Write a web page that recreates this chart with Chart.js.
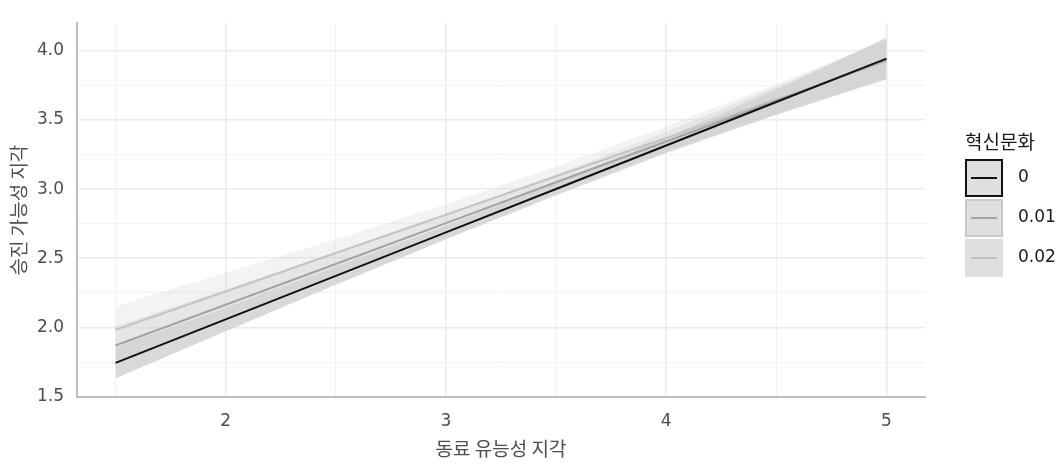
<!DOCTYPE html>
<html>
<head>
<meta charset="utf-8">
<script src="https://cdn.jsdelivr.net/npm/chart.js@4"></script>
<style>
  html, body { margin:0; padding:0; background:#fff; }
  #wrap { position:relative; width:1062px; height:465px; }
  #legend { position:absolute; left:965px; top:128px; font-family:"DejaVu Sans", sans-serif; color:#1a1a1a; }
  #legend .title { font-family:"Noto Sans CJK KR", sans-serif; font-size:19px; color:#1a1a1a; height:30px; line-height:26px; }
  #legend .row { position:relative; height:40px; }
  #legend .key { position:absolute; left:0; top:1px; width:34px; height:34px; background:#dfdfdf; border:2px solid #dfdfdf; }
  #legend .key span { position:absolute; left:4px; right:4px; top:16px; height:2px; }
  #legend .lab { position:absolute; left:53px; top:8px; font-size:17px; line-height:20px; color:#1a1a1a; }
</style>
</head>
<body>
<div id="wrap">
  <canvas id="c" width="1062" height="465"></canvas>
  <div id="legend"></div>
</div>
<script>
// ---- data ----
const xValues = [1.5, 2, 2.5, 3, 3.5, 4, 4.5, 5];
const seriesNames = ["0", "0.01", "0.02"];
const line0 = [1.744, 2.058, 2.373, 2.687, 3.001, 3.316, 3.630, 3.944];
const lower0 = [1.632, 1.973, 2.308, 2.637, 2.956, 3.261, 3.540, 3.794];
const upper0 = [1.856, 2.143, 2.438, 2.737, 3.046, 3.371, 3.720, 4.094];
const line1 = [1.869, 2.164, 2.459, 2.754, 3.050, 3.345, 3.640, 3.935];
const lower1 = [1.729, 2.054, 2.379, 2.694, 2.995, 3.275, 3.540, 3.800];
const upper1 = [2.009, 2.274, 2.539, 2.814, 3.105, 3.415, 3.740, 4.080];
const line2 = [1.983, 2.260, 2.538, 2.815, 3.093, 3.370, 3.648, 3.925];
const lower2 = [1.813, 2.125, 2.438, 2.740, 3.023, 3.285, 3.535, 3.800];
const upper2 = [2.153, 2.395, 2.638, 2.890, 3.163, 3.455, 3.760, 4.080];
const yTickLabels = ["1.5", "2.0", "2.5", "3.0", "3.5", "4.0"];
const xTickLabels = ["2", "3", "4", "5"];
const xTitle = "동료 유능성 지각";
const yTitle = "승진 가능성 지각";
const legendTitle = "혁신문화";

// ---- styles ----
const lineColors = ["#111111", "#a3a3a3", "#c4c4c4"];
const ribbonColors = ["rgba(210,210,210,0.85)", "rgba(210,210,210,0.4)", "rgba(210,210,210,0.27)"];
const keyBorders = ["#111111", "#c9c9c9", "#dfdfdf"];

function pts(ys) { return xValues.map((x, i) => ({ x: x, y: ys[i] })); }

const lines = [line0, line1, line2];
const lowers = [lower0, lower1, lower2];
const uppers = [upper0, upper1, upper2];

const datasets = [];
for (let s = 0; s < 3; s++) {
  datasets.push({
    label: seriesNames[s] + " lo", data: pts(lowers[s]), borderWidth: 0, pointRadius: 0,
    borderColor: "rgba(0,0,0,0)", fill: false, order: 20 - s
  });
  datasets.push({
    label: seriesNames[s] + " hi", data: pts(uppers[s]), borderWidth: 0, pointRadius: 0,
    borderColor: "rgba(0,0,0,0)", backgroundColor: ribbonColors[s], fill: "-1", order: 20 - s
  });
}
for (let s = 0; s < 3; s++) {
  datasets.push({
    label: seriesNames[s], data: pts(lines[s]), borderColor: lineColors[s], borderWidth: 2,
    pointRadius: 0, fill: false, order: s
  });
}

function isMajorY(v) { return yTickLabels.includes(v.toFixed(1)); }
function isMajorX(v) { return xTickLabels.includes(String(v)); }

new Chart(document.getElementById("c"), {
  type: "line",
  data: { datasets: datasets },
  options: {
    responsive: false,
    animation: false,
    layout: { padding: { top: 7, right: 137, left: 0, bottom: 0 } },
    plugins: { legend: { display: false }, tooltip: { enabled: false } },
    elements: { line: { tension: 0 } },
    scales: {
      x: {
        type: "linear", min: 1.325, max: 5.175,
        ticks: {
          stepSize: 0.5, includeBounds: false, padding: 14, autoSkip: false, maxRotation: 0,
          color: "#4d4d4d", font: { family: "DejaVu Sans", size: 17 },
          callback: v => isMajorX(v) ? String(v) : ""
        },
        grid: {
          drawTicks: false,
          color: c => isMajorX(c.tick.value) ? "#ebebeb" : "#f2f2f2",
          lineWidth: c => isMajorX(c.tick.value) ? 1.6 : 1
        },
        border: { display: true, color: "#bdbdbd", width: 2 },
        title: { display: true, text: xTitle, color: "#4d4d4d", padding: { top: 0, bottom: 5 },
          font: { family: "Noto Sans CJK KR", size: 19 } },
        afterFit: s => { s.height = 68; }
      },
      y: {
        type: "linear", min: 1.497, max: 4.2,
        ticks: {
          stepSize: 0.25, includeBounds: false, padding: 13, autoSkip: false,
          color: "#4d4d4d", font: { family: "DejaVu Sans", size: 17 },
          callback: v => isMajorY(v) ? v.toFixed(1) : ""
        },
        grid: {
          drawTicks: false,
          color: c => isMajorY(c.tick.value) ? "#ebebeb" : "#f2f2f2",
          lineWidth: c => isMajorY(c.tick.value) ? 1.6 : 1
        },
        border: { display: true, color: "#bdbdbd", width: 2 },
        title: { display: true, text: yTitle, color: "#4d4d4d", padding: { top: 7, bottom: 0 },
          font: { family: "Noto Sans CJK KR", size: 19 } },
        afterFit: s => { s.width = 77; }
      }
    }
  }
});

// legend
const lg = document.getElementById("legend");
let html = '<div class="title">' + legendTitle + '</div>';
for (let s = 0; s < 3; s++) {
  html += '<div class="row"><div class="key" style="border-color:' + keyBorders[s] + '"><span style="background:' +
    lineColors[s] + '"></span></div><div class="lab">' + seriesNames[s] + '</div></div>';
}
lg.innerHTML = html;
</script>
</body>
</html>
